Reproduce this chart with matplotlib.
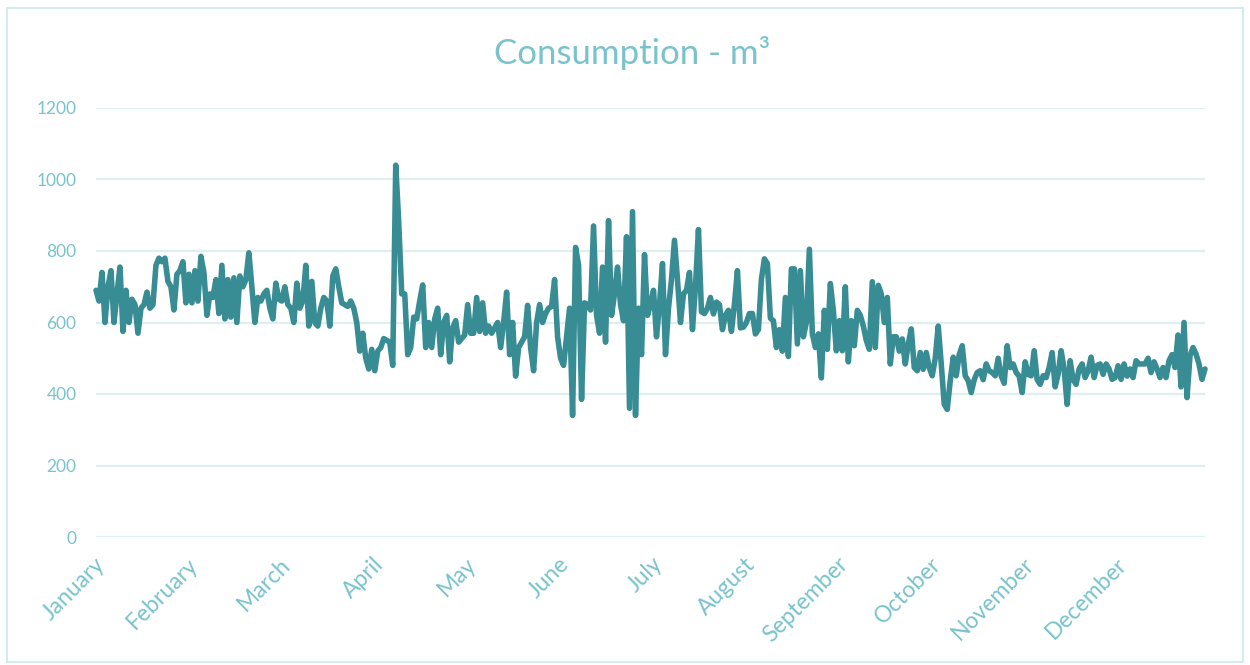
import matplotlib
matplotlib.use("Agg")
import matplotlib.pyplot as plt
from matplotlib.patches import Rectangle
import matplotlib.transforms as mtransforms

months = ["January", "February", "March", "April", "May", "June",
          "July", "August", "September", "October", "November", "December"]

jan = [690, 660, 740, 600, 700, 745, 600, 680, 755, 575, 690, 600, 665, 650, 570, 640,
       650, 685, 640, 650, 760, 780, 770, 780, 715, 700, 635, 735, 745, 770, 655]
feb = [735, 655, 745, 660, 785, 740, 620, 680, 670, 720, 625, 760, 610, 720, 615, 725,
       600, 730, 700, 720, 795, 700, 600, 670, 660, 680, 690, 640, 610, 710, 665]
mar = [660, 700, 650, 640, 600, 710, 640, 660, 760, 590, 715, 600, 590, 640, 670, 660,
       590, 730, 750, 700, 655, 650, 645, 660, 640, 600, 520, 570, 500, 470, 525]
apr = [465, 520, 530, 555, 550, 545, 480, 1040, 880, 680, 680, 510, 530, 615, 610, 660,
       705, 530, 600, 530, 610, 640, 510, 600, 620, 490, 585, 605, 545, 555, 565]
may = [650, 570, 570, 670, 575, 655, 570, 590, 570, 585, 600, 530, 600, 685, 510, 600,
       450, 530, 545, 560, 648, 530, 465, 600, 650, 600, 625, 640, 645, 720, 560]
jun = [500, 480, 560, 640, 340, 810, 760, 385, 655, 650, 635, 870, 620, 570, 755, 545,
       885, 620, 680, 755, 650, 605, 840, 360, 910, 340, 640, 510, 790, 620, 650]
jul = [690, 560, 650, 765, 510, 640, 720, 830, 720, 600, 680, 690, 740, 580, 700, 860,
       630, 625, 640, 670, 624, 657, 650, 580, 620, 634, 575, 650, 745, 585, 587]
aug = [600, 625, 625, 568, 580, 720, 778, 765, 612, 605, 530, 580, 520, 670, 505, 750,
       750, 540, 745, 560, 600, 805, 568, 530, 568, 445, 634, 525, 709, 634, 521]
sep = [605, 521, 700, 490, 605, 535, 634, 620, 590, 550, 525, 714, 530, 704, 680, 600,
       670, 484, 560, 560, 520, 554, 484, 540, 582, 474, 465, 516, 469, 516, 474]
oct_ = [451, 500, 590, 484, 371, 357, 437, 503, 451, 510, 535, 451, 437, 404, 440, 460,
        465, 440, 484, 465, 460, 451, 500, 451, 430, 535, 474, 484, 460, 450, 404]
nov = [490, 455, 451, 521, 440, 427, 451, 446, 474, 516, 420, 455, 521, 470, 371, 493,
       440, 427, 470, 484, 446, 465, 503, 446, 480, 484, 455, 484, 470, 441, 446]
dec = [479, 441, 484, 450, 470, 446, 493, 484, 484, 484, 500, 460, 490, 470, 446, 474,
       446, 493, 510, 474, 565, 420, 600, 390, 507, 530, 512, 484, 441, 470]

consumption = jan + feb + mar + apr + may + jun + jul + aug + sep + oct_ + nov + dec
month_start = [0, 31, 62, 93, 124, 155, 186, 217, 248, 279, 310, 341]
y_ticks = [0, 200, 400, 600, 800, 1000, 1200]

plt.rcParams['font.family'] = ['Lato', 'DejaVu Sans']

W, H = 1250, 665
fig = plt.figure(figsize=(W / 100, H / 100), dpi=100)
fig.patch.set_facecolor("white")

label_color = "#79C3CC"
line_color = "#388C94"
grid_color = "#DDEFF1"

ax = fig.add_axes([96 / W, 1 - 537 / H, (1205 - 96) / W, (537 - 108) / H])
ax.plot(range(len(consumption)), consumption, color=line_color, lw=4.0,
        solid_joinstyle="round", solid_capstyle="round", clip_on=False, zorder=3)
ax.set_ylim(0, 1200)
ax.set_xlim(0, len(consumption) - 1)
ax.set_yticks(y_ticks)
ax.set_yticklabels([str(v) for v in y_ticks])
ax.yaxis.grid(True, color=grid_color, lw=1.6)
ax.set_axisbelow(True)
for s in ax.spines.values():
    s.set_visible(False)
ax.tick_params(axis="y", length=0, colors=label_color, labelsize=12.5, pad=14)
ax.tick_params(axis="x", length=0, colors=label_color, labelsize=16.5, pad=12)
ax.set_xticks(month_start)
ax.set_xticklabels(months, rotation=45, ha="right", va="top", rotation_mode="anchor")
offset = mtransforms.ScaledTranslation(-2 / 100, 0, fig.dpi_scale_trans)
for lab in ax.get_xticklabels():
    lab.set_transform(lab.get_transform() + offset)

fig.text(632 / W, 1 - 53 / H, "Consumption - m³", ha="center", va="center",
         fontsize=25, color=label_color)

fig.patches.append(Rectangle((7 / W, 3 / H), 1236 / W, 654 / H, transform=fig.transFigure,
                             fill=False, edgecolor="#D5ECEF", lw=1.5))

fig.savefig("out.png", dpi=100)
